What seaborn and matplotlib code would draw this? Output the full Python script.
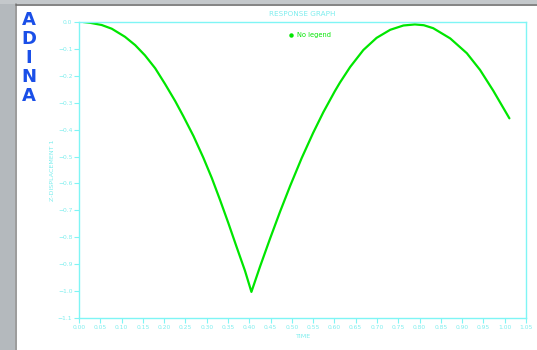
import matplotlib
matplotlib.use("Agg")
import matplotlib.pyplot as plt
from matplotlib.patches import Rectangle
from matplotlib.lines import Line2D
import seaborn as sns
import pandas as pd

# Data
time = [0.010, 0.026, 0.053, 0.077, 0.108, 0.132, 0.155, 0.179, 0.202, 0.226,
        0.245, 0.269, 0.292, 0.312, 0.331, 0.351, 0.370, 0.390, 0.405,
        0.425, 0.449, 0.472, 0.496, 0.523, 0.550, 0.574, 0.601, 0.613, 0.637,
        0.668, 0.699, 0.731, 0.762, 0.789, 0.810, 0.832, 0.872, 0.911, 0.942, 0.973, 1.011]
displacement = [0.000, -0.003, -0.011, -0.025, -0.055, -0.086, -0.124, -0.172, -0.230, -0.294,
                -0.350, -0.424, -0.504, -0.580, -0.660, -0.748, -0.835, -0.925, -1.003,
                -0.910, -0.804, -0.706, -0.609, -0.506, -0.412, -0.335, -0.257, -0.225, -0.167,
                -0.104, -0.059, -0.029, -0.013, -0.009, -0.012, -0.023, -0.061, -0.116, -0.178, -0.255, -0.358]
x_ticks = [round(0.05 * i, 2) for i in range(22)]
y_ticks = [round(-0.1 * i, 1) for i in range(12)]
title_text = "RESPONSE GRAPH"
x_label = "TIME"
y_label = "Z-DISPLACEMENT 1"
legend_label = "No legend"
logo = ["A", "D", "I", "N", "A"]

df = pd.DataFrame({"time": time, "disp": displacement})

sns.set_style("white")
plt.rcParams["font.family"] = ["DejaVu Sans"]

AX_C = "#7ff5f5"
TXT_C = "#7eeeee"
LINE_C = "#00e600"

W, H = 537, 350
fig = plt.figure(figsize=(W / 100, H / 100), dpi=100)
fig.patch.set_facecolor("white")

# background texture strips (screenshot frame)
fig.patches.append(Rectangle((0, 0), 15 / W, 1, transform=fig.transFigure,
                             facecolor="#b4b9bd", edgecolor="none", zorder=0))
fig.patches.append(Rectangle((0, 1 - 4 / H), 1, 4 / H, transform=fig.transFigure,
                             facecolor="#c4c8cb", edgecolor="none", zorder=0))
fig.add_artist(Line2D([15.5 / W, 15.5 / W], [0, 1 - 4 / H], transform=fig.transFigure,
                      color="#8a8a8a", lw=1.2))
fig.add_artist(Line2D([15.5 / W, 1], [1 - 4.5 / H, 1 - 4.5 / H], transform=fig.transFigure,
                      color="#6e6e6e", lw=1.2))

# ADINA logo
for i, ch in enumerate(logo):
    fig.text(29 / W, 1 - (19.7 + 19 * i) / H, ch, color="#1a4fe8", fontsize=13,
             fontweight="bold", ha="center", va="center", family=["DejaVu Sans"])

ax = fig.add_axes([79 / W, 1 - 318 / H, 447 / W, 296 / H])
sns.lineplot(data=df, x="time", y="disp", ax=ax, color=LINE_C, linewidth=1.6,
             sort=False, estimator=None)

ax.set_xlim(0, 1.05)
ax.set_ylim(-1.1, 0.0)
ax.set_xticks(x_ticks)
ax.set_xticklabels([f"{v:.2f}" for v in x_ticks])
ax.set_yticks(y_ticks)
ax.set_yticklabels(["0.0" if v == 0 else f"{v:.1f}".replace("-", "\u2212") for v in y_ticks])
for s in ax.spines.values():
    s.set_color(AX_C)
    s.set_linewidth(1.0)
ax.tick_params(axis="both", which="both", direction="out", length=3.5, width=0.8,
               color=AX_C, labelcolor=TXT_C, labelsize=4.3, pad=1.2,
               left=True, bottom=True)
ax.set_xlabel(x_label, color=TXT_C, fontsize=4.6)
ax.set_ylabel(y_label, color=TXT_C, fontsize=4.6)
ax.yaxis.set_label_coords(-0.053, 0.5)
ax.xaxis.set_label_coords(0.5, -0.055)
ax.set_title(title_text, color=TXT_C, fontsize=5.2, pad=4)

handle = Line2D([], [], marker="o", linestyle="none", color=LINE_C, markersize=2.2)
leg = ax.legend([handle], [legend_label], loc="upper center", bbox_to_anchor=(0.515, 0.985),
                frameon=False, fontsize=4.8, handletextpad=0.4, handlelength=1.0)
for t in leg.get_texts():
    t.set_color(LINE_C)

fig.savefig("out.png", dpi=100)
